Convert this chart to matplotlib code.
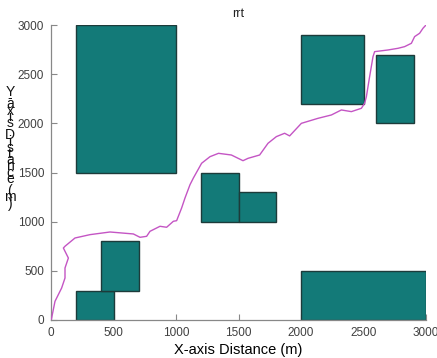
import matplotlib
matplotlib.use("Agg")
import matplotlib.pyplot as plt
from matplotlib.patches import Rectangle

plt.rcParams["font.family"] = ["Liberation Sans", "DejaVu Sans"]

# Obstacles: (x, y, width, height) in metres
obs_x = [200, 200, 400, 1200, 1500, 2000, 2000, 2600]
obs_y = [1500, 0, 300, 1000, 1000, 0, 2200, 2000]
obs_w = [800, 300, 300, 300, 300, 1000, 500, 300]
obs_h = [1500, 300, 500, 500, 300, 500, 700, 700]

# RRT path waypoints (m)
path_x = [0, 5, 32, 85, 112, 112, 139, 99, 112, 192, 312, 472, 659, 712, 765,
          792, 872, 925, 979, 1005, 1045, 1072, 1112, 1139, 1205, 1272, 1340,
          1443, 1536, 1576, 1669, 1736, 1803, 1869, 1909, 2003, 2136, 2243,
          2323, 2403, 2483, 2509, 2523, 2549, 2576, 2589, 2696, 2776, 2829,
          2883, 2909, 2949, 2976, 3000]
path_y = [0, 20, 190, 325, 427, 529, 630, 732, 750, 834, 868, 895, 875, 841, 851,
          902, 953, 943, 1004, 1010, 1139, 1241, 1376, 1444, 1594, 1661, 1695,
          1678, 1620, 1644, 1678, 1797, 1865, 1899, 1872, 2000, 2051, 2085,
          2136, 2119, 2153, 2204, 2271, 2475, 2678, 2729, 2746, 2763, 2780,
          2814, 2882, 2916, 2967, 3000]

xticks = [0, 500, 1000, 1500, 2000, 2500, 3000]
yticks = [0, 500, 1000, 1500, 2000, 2500, 3000]

fig = plt.figure(figsize=(4.37, 3.58), dpi=100)
ax = fig.add_axes([51 / 437, 38 / 358, 375 / 437, 295 / 358])

for x, y, w, h in zip(obs_x, obs_y, obs_w, obs_h):
    ax.add_patch(Rectangle((x, y), w, h, facecolor="#137a78",
                           edgecolor="#1d3b3a", linewidth=1.0, zorder=2))

ax.plot(path_x, path_y, color="#c455c4", linewidth=1.0, zorder=3)

ax.set_xlim(0, 3000)
ax.set_ylim(0, 3000)
ax.set_xticks(xticks)
ax.set_yticks(yticks)
ax.tick_params(direction="in", length=4, width=0.8, colors="#888888",
               labelcolor="#404040", labelsize=8.5, pad=5)
for side in ("top", "right"):
    ax.spines[side].set_visible(False)
for side in ("left", "bottom"):
    ax.spines[side].set_color("#888888")
    ax.spines[side].set_linewidth(0.9)

ax.set_title("rrt", fontsize=9, color="#222222", pad=6)
ax.set_xlabel("X-axis Distance (m)", fontsize=10.5, labelpad=3)

# y label drawn as upright characters stacked in a narrow column
label = "Y-axis Distance (m)"
top_px, step_px = 92, 6.2
for i, ch in enumerate(label):
    if ch == " ":
        continue
    ypx = top_px + i * step_px
    fig.text(10 / 437, 1 - ypx / 358, ch, fontsize=10, ha="center",
             va="center", color="#111111")

fig.savefig("out.png", dpi=100)
